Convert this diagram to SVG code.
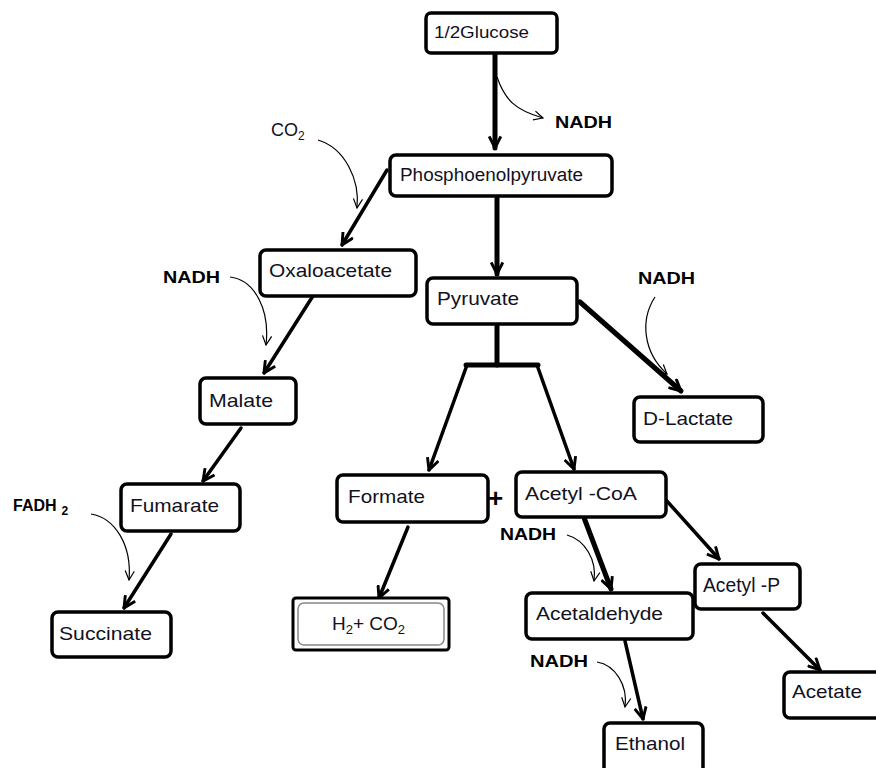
<svg xmlns="http://www.w3.org/2000/svg" width="876" height="768" viewBox="0 0 876 768">
<style>
.box{fill:#fff;stroke:#000;stroke-width:3.5}
.lbl{font-family:"Liberation Sans",Arial,sans-serif;font-size:19px;fill:#111122}
.co{font-family:"Liberation Sans",Arial,sans-serif;font-size:16px;font-weight:bold;fill:#000}
.ln{fill:none;stroke:#000;stroke-width:3.5;stroke-linecap:round}
.ln5{fill:none;stroke:#000;stroke-width:5;stroke-linecap:round}
.cv{fill:none;stroke:#000;stroke-width:1.2}
</style>
<defs>
<marker id="ah" viewBox="0 0 12 12" refX="11" refY="6" markerWidth="14" markerHeight="14" markerUnits="userSpaceOnUse" orient="auto">
<path d="M1,1 L11,6 L1,11" fill="none" stroke="#000" stroke-width="2.5"/>
</marker>
<marker id="ahs" viewBox="0 0 12 12" refX="11" refY="6" markerWidth="11" markerHeight="11" markerUnits="userSpaceOnUse" orient="auto">
<path d="M1,1 L11,6 L1,11" fill="none" stroke="#000" stroke-width="1.3"/>
</marker>
</defs>
<rect width="876" height="768" fill="#fff"/>

<g id="connectors">
<line class="ln5" x1="495" y1="53" x2="495" y2="148" marker-end="url(#ah)"/>
<line class="ln5" x1="497" y1="198" x2="497" y2="274" marker-end="url(#ah)"/>
<line class="ln" x1="387" y1="170" x2="342" y2="245" marker-end="url(#ah)"/>
<line class="ln" x1="318" y1="288" x2="264" y2="373" marker-end="url(#ah)"/>
<line class="ln" x1="241" y1="428" x2="203" y2="481" marker-end="url(#ah)"/>
<line class="ln" x1="171" y1="534" x2="124" y2="608" marker-end="url(#ah)"/>
<line class="ln5" x1="580" y1="302" x2="681" y2="391" marker-end="url(#ah)"/>
<line class="ln5" x1="497" y1="326" x2="497" y2="365"/>
<line class="ln5" x1="466" y1="365" x2="538" y2="365"/>
<line class="ln" x1="467" y1="365" x2="429" y2="470" marker-end="url(#ah)"/>
<line class="ln" x1="537" y1="365" x2="574" y2="469" marker-end="url(#ah)"/>
<line class="ln" x1="408" y1="527" x2="379" y2="598" marker-end="url(#ah)"/>
<line class="ln5" x1="583" y1="515" x2="611" y2="589" marker-end="url(#ah)"/>
<line class="ln" x1="666" y1="500" x2="719" y2="559" marker-end="url(#ah)"/>
<line class="ln" x1="625" y1="641" x2="643" y2="719" marker-end="url(#ah)"/>
<line class="ln" x1="763" y1="613" x2="820" y2="670" marker-end="url(#ah)"/>

<path class="cv" d="M497,77 C505,100 515,110 543,118" marker-end="url(#ahs)"/>
<path class="cv" d="M318,140 C345,148 360,180 357,208" marker-end="url(#ahs)"/>
<path class="cv" d="M230,277 C255,280 270,310 266,345" marker-end="url(#ahs)"/>
<path class="cv" d="M91,514 C115,518 132,545 129,580" marker-end="url(#ahs)"/>
<path class="cv" d="M655,297 C640,320 643,352 667,374" marker-end="url(#ahs)"/>
<path class="cv" d="M567,535 C585,540 597,560 594,581" marker-end="url(#ahs)"/>
<path class="cv" d="M597,662 C615,665 628,685 625,707" marker-end="url(#ahs)"/>
</g>

<g id="cofactors">
<text class="co" x="555" y="128" textLength="57" lengthAdjust="spacingAndGlyphs">NADH</text>
<text class="lbl" x="271" y="136" style="font-size:18px">CO<tspan font-size="12" dy="4">2</tspan></text>
<text class="co" x="163" y="283" textLength="57" lengthAdjust="spacingAndGlyphs">NADH</text>
<text class="co" x="638" y="284" textLength="57" lengthAdjust="spacingAndGlyphs">NADH</text>
<text class="co" x="13" y="511">FADH<tspan font-size="12" dx="5" dy="4">2</tspan></text>
<text class="co" x="500" y="540" textLength="56" lengthAdjust="spacingAndGlyphs">NADH</text>
<text class="co" x="530" y="667" textLength="58" lengthAdjust="spacingAndGlyphs">NADH</text>
<text class="co" x="488" y="507" style="font-size:26px">+</text>
</g>

<g id="glucose"><rect class="box" x="426" y="13" width="131" height="40" rx="5"/><text class="lbl" x="434" y="38" style="font-size:17px" textLength="95" lengthAdjust="spacingAndGlyphs">1/2Glucose</text></g>
<g id="pep"><rect class="box" x="390" y="155" width="222" height="41" rx="6"/><text class="lbl" x="400" y="181" style="font-size:18px" textLength="183" lengthAdjust="spacingAndGlyphs">Phosphoenolpyruvate</text></g>
<g id="oxaloacetate"><rect class="box" x="260" y="250" width="156" height="46" rx="6"/><text class="lbl" x="269" y="277" textLength="123" lengthAdjust="spacingAndGlyphs">Oxaloacetate</text></g>
<g id="pyruvate"><rect class="box" x="427" y="278" width="150" height="46" rx="6"/><text class="lbl" x="437" y="305" textLength="82" lengthAdjust="spacingAndGlyphs">Pyruvate</text></g>
<g id="dlactate"><rect class="box" x="634" y="397" width="129" height="45" rx="6"/><text class="lbl" x="643" y="425" textLength="90" lengthAdjust="spacingAndGlyphs">D-Lactate</text></g>
<g id="malate"><rect class="box" x="200" y="378" width="96" height="46" rx="6"/><text class="lbl" x="209" y="407" textLength="64" lengthAdjust="spacingAndGlyphs">Malate</text></g>
<g id="fumarate"><rect class="box" x="121" y="484" width="119" height="47" rx="6"/><text class="lbl" x="130" y="512" textLength="89" lengthAdjust="spacingAndGlyphs">Fumarate</text></g>
<g id="succinate"><rect class="box" x="52" y="612" width="119" height="45" rx="6"/><text class="lbl" x="59" y="640" textLength="93" lengthAdjust="spacingAndGlyphs">Succinate</text></g>
<g id="formate"><rect class="box" x="337" y="475" width="151" height="47" rx="6"/><text class="lbl" x="348" y="503" textLength="77" lengthAdjust="spacingAndGlyphs">Formate</text></g>
<g id="acetylcoa"><rect class="box" x="516" y="472" width="150" height="45" rx="6"/><text class="lbl" x="525" y="500" textLength="112" lengthAdjust="spacingAndGlyphs">Acetyl -CoA</text></g>
<g id="h2co2"><rect x="293" y="598" width="156" height="52" rx="3" fill="#fff" stroke="#000" stroke-width="3"/><rect x="298" y="603" width="146" height="42" rx="6" fill="#fff" stroke="#888" stroke-width="1.5"/><text class="lbl" x="332" y="630">H<tspan font-size="13" dy="4">2</tspan><tspan dy="-4">+ CO</tspan><tspan font-size="13" dy="4">2</tspan></text></g>
<g id="acetaldehyde"><rect class="box" x="526" y="593" width="167" height="46" rx="6"/><text class="lbl" x="536" y="620" textLength="127" lengthAdjust="spacingAndGlyphs">Acetaldehyde</text></g>
<g id="acetylp"><rect class="box" x="695" y="564" width="105" height="45" rx="6"/><text class="lbl" x="703" y="592" style="font-size:20px" textLength="77" lengthAdjust="spacingAndGlyphs">Acetyl -P</text></g>
<g id="acetate"><rect class="box" x="784" y="672" width="100" height="46" rx="6"/><text class="lbl" x="792" y="698" textLength="70" lengthAdjust="spacingAndGlyphs">Acetate</text></g>
<g id="ethanol"><rect class="box" x="604" y="723" width="99" height="50" rx="6"/><text class="lbl" x="615" y="750" textLength="70" lengthAdjust="spacingAndGlyphs">Ethanol</text></g>
</svg>
